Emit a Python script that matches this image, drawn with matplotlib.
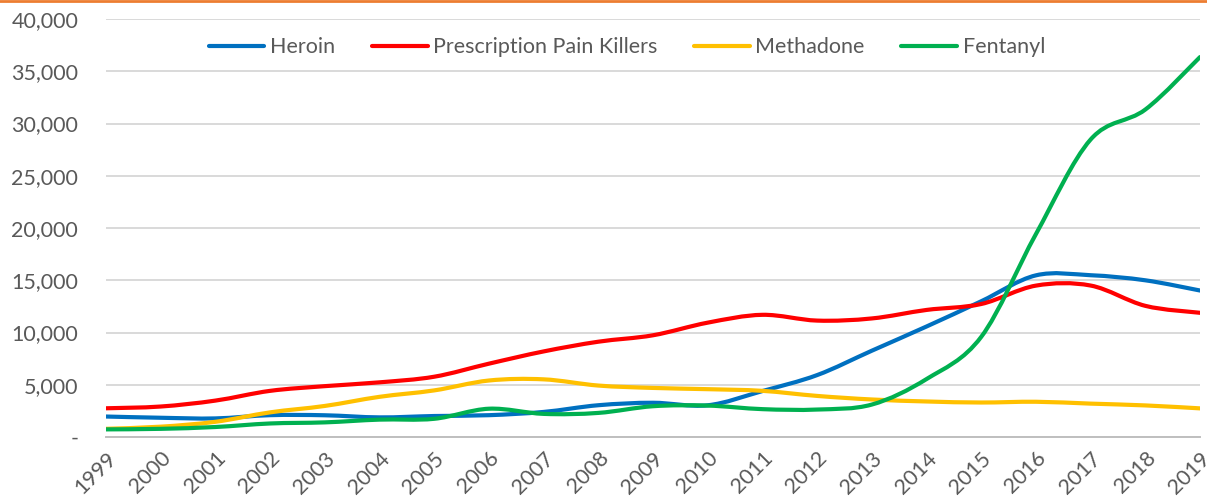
import matplotlib
matplotlib.use("Agg")
import matplotlib.pyplot as plt
import numpy as np
from matplotlib.path import Path
from matplotlib.patches import PathPatch
from matplotlib.lines import Line2D
from matplotlib.ticker import FuncFormatter, MultipleLocator

years = list(range(1999, 2020))
heroin = [1960, 1842, 1779, 2089, 2080, 1878, 2009, 2088, 2399, 3041, 3278,
          3036, 4397, 5925, 8257, 10574, 12989, 15469, 15482, 14996, 14019]
painkillers = [2749, 2917, 3484, 4416, 4867, 5231, 5769, 7017, 8189, 9119, 9735,
               10943, 11693, 11140, 11346, 12159, 12727, 14487, 14495, 12552, 11886]
methadone = [784, 988, 1456, 2358, 2972, 3845, 4460, 5406, 5518, 4924, 4696,
             4577, 4418, 3932, 3591, 3400, 3301, 3373, 3194, 3023, 2740]
fentanyl = [730, 782, 957, 1295, 1400, 1664, 1742, 2707, 2213, 2306, 2946,
            3007, 2666, 2628, 3105, 5544, 9580, 19413, 28466, 31335, 36359]

series = [("Heroin", heroin, "#0070C0"),
          ("Prescription Pain Killers", painkillers, "#FF0000"),
          ("Methadone", methadone, "#FFC000"),
          ("Fentanyl", fentanyl, "#00B050")]

plt.rcParams['font.family'] = ['Lato', 'DejaVu Sans']
TXT = "#595959"
FS = 15.5

fig = plt.figure(figsize=(12.07, 5.03), dpi=100)
ax = fig.add_axes([0.0878, 0.1312, 0.9942 - 0.0878, 0.9622 - 0.1312])


def smooth_path(xs, ys):
    # Excel-style smoothed line as cubic Bezier segments
    xs = np.asarray(xs, float)
    ys = np.asarray(ys, float)
    n = len(xs)
    verts = [(xs[0], ys[0])]
    codes = [Path.MOVETO]
    for i in range(n - 1):
        p0 = (xs[max(i - 1, 0)], ys[max(i - 1, 0)])
        p1 = (xs[i], ys[i])
        p2 = (xs[i + 1], ys[i + 1])
        p3 = (xs[min(i + 2, n - 1)], ys[min(i + 2, n - 1)])
        c1 = (p1[0] + (p2[0] - p0[0]) / 6, p1[1] + (p2[1] - p0[1]) / 6)
        c2 = (p2[0] - (p3[0] - p1[0]) / 6, p2[1] - (p3[1] - p1[1]) / 6)
        verts += [c1, c2, p2]
        codes += [Path.CURVE4] * 3
    return Path(verts, codes)


handles = []
for name, vals, col in series:
    patch = PathPatch(smooth_path(years, vals), facecolor="none", edgecolor=col,
                      lw=3.0, capstyle="round", joinstyle="round", zorder=3)
    ax.add_patch(patch)
    handles.append(Line2D([], [], color=col, lw=3.0, solid_capstyle="round", label=name))

ax.set_xlim(1999, 2019)
ax.set_ylim(0, 40000)
ax.yaxis.set_major_locator(MultipleLocator(5000))
ax.yaxis.set_major_formatter(FuncFormatter(lambda v, p: "-" if v == 0 else f"{int(v):,}"))
ax.set_xticks(years)
ax.set_xticklabels([str(y) for y in years], rotation=45, ha="right",
                   rotation_mode="anchor")
ax.tick_params(axis="both", length=0, colors=TXT, labelsize=FS)
ax.tick_params(axis="y", pad=20)
ax.tick_params(axis="x", pad=8)

ax.grid(axis="y", color="#D9D9D9", lw=1.4, zorder=0)
ax.set_axisbelow(True)
for s in ["top", "right", "left"]:
    ax.spines[s].set_visible(False)
ax.spines["bottom"].set_color("#BFBFBF")
ax.spines["bottom"].set_linewidth(1.4)

leg = ax.legend(handles=handles, loc="upper center", bbox_to_anchor=(0.476, 1.003),
                ncol=4, frameon=False, fontsize=FS, handlelength=2.6,
                handletextpad=0.25, columnspacing=1.7, labelcolor=TXT)

fig.add_artist(Line2D([0, 1], [0.998, 0.998], transform=fig.transFigure,
                      color="#ED7D31", lw=2))

fig.savefig("out.png", dpi=100)
